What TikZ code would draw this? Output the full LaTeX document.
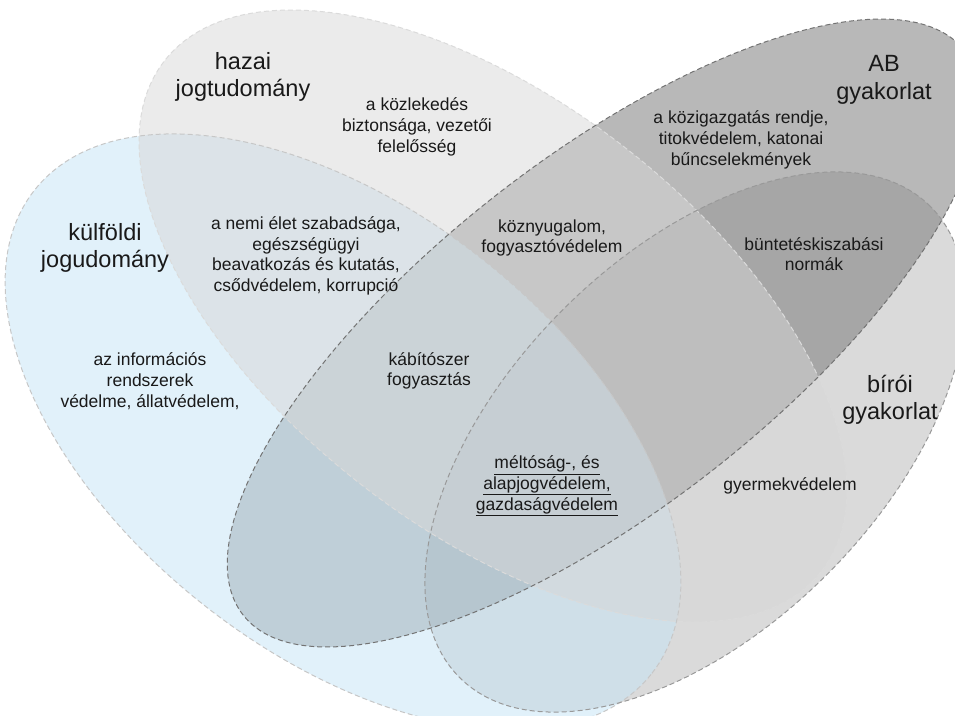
\documentclass[tikz,border=0pt]{standalone}
\usepackage{fontspec}
\setmainfont{Liberation Sans}
\usetikzlibrary{shapes.geometric}
\definecolor{abcol}{RGB}{184,184,184}
\definecolor{biroicol}{RGB}{121,121,121}
\definecolor{kulfcol}{RGB}{198,228,245}
\definecolor{hazaicol}{RGB}{215,215,215}
\definecolor{szoveg}{RGB}{25,25,25}

\begin{document}
\begin{tikzpicture}[
    x=1pt, y=-1pt,
    halmaz/.style={ellipse, inner sep=0pt},
    abgeom/.style={minimum width=916, minimum height=350, rotate=38},
    biroigeom/.style={minimum width=666, minimum height=374, rotate=45},
    kulfgeom/.style={minimum width=784, minimum height=444, rotate=-38},
    hazaigeom/.style={minimum width=832, minimum height=428, rotate=-37.8},
    vonal/.style={dash pattern=on 5pt off 3pt, line width=1pt},
    cim/.style={align=center, text=szoveg, font=\fontsize{23.5}{27.5}\selectfont},
    lbl/.style={align=center, text=szoveg, font=\fontsize{17.5}{20.7}\selectfont}
]
\useasboundingbox (0,0) rectangle (955,715);

\node[halmaz, abgeom, fill=abcol] (ab) at (604,333) {};
\node[halmaz, biroigeom, fill=biroicol, fill opacity=0.28] (biroi) at (695,442) {};
\node[halmaz, kulfgeom, fill=kulfcol, fill opacity=0.53] (kulf) at (343,432) {};
\node[halmaz, hazaigeom, fill=hazaicol, fill opacity=0.5] (hazai) at (493,316) {};

\node[halmaz, kulfgeom, draw=black!22, vonal] (kulf-line) at (kulf) {};
\node[halmaz, hazaigeom, draw=black!14, vonal] (hazai-line) at (hazai) {};
\node[halmaz, abgeom, draw=black!55, vonal] (ab-line) at (ab) {};
\node[halmaz, biroigeom, draw=black!40, vonal] (biroi-line) at (biroi) {};

\node[cim] (hazai-t) at (243,77) {hazai\\jogtudomány};
\node[cim] (kulf-t) at (105,248) {külföldi\\jogudomány};
\node[cim] (ab-t) at (884,80) {AB\\gyakorlat};
\node[cim] (biroi-t) at (890,400) {bírói\\gyakorlat};

\node[lbl] (kozl) at (417,127) {a közlekedés\\biztonsága, vezetői\\felelősség};
\node[lbl] (kozig) at (741,140) {a közigazgatás rendje,\\titokvédelem, katonai\\bűncselekmények};
\node[lbl] (nemi) at (306,256) {a nemi élet szabadsága,\\egészségügyi\\beavatkozás és kutatás,\\csődvédelem, korrupció};
\node[lbl] (kozny) at (552,238) {köznyugalom,\\fogyasztóvédelem};
\node[lbl] (bunt) at (814,254) {büntetéskiszabási\\normák};
\node[lbl] (info) at (150,381) {az információs\\rendszerek\\védelme, állatvédelem,};
\node[lbl] (kabit) at (429,371) {kábítószer\\fogyasztás};
\node[lbl] (melt) at (547,486) {\underline{méltóság-, és}\\\underline{alapjogvédelem,}\\\underline{gazdaságvédelem}};
\node[lbl] (gyerm) at (790,486) {gyermekvédelem};
\end{tikzpicture}
\end{document}
